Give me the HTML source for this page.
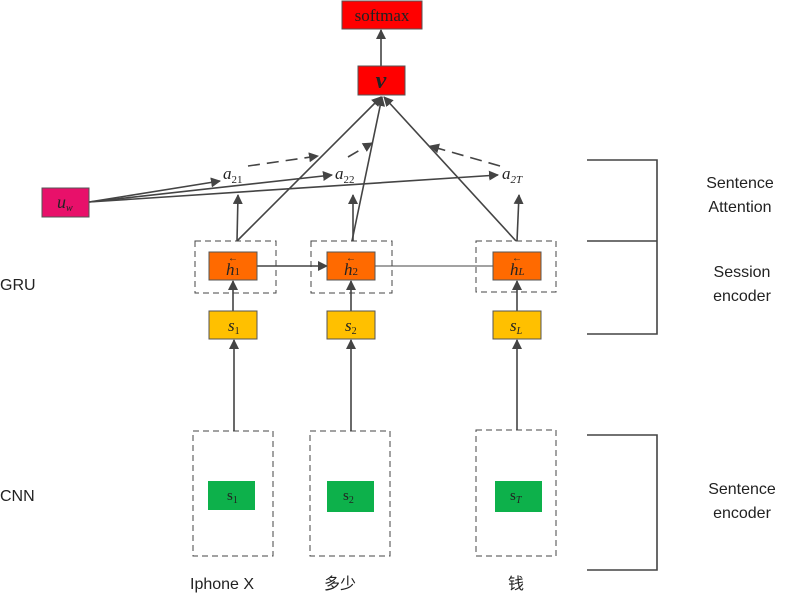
<!DOCTYPE html>
<html><head><meta charset="utf-8"><style>
body{margin:0;background:#fff;width:785px;height:595px;overflow:hidden}
svg{display:block}
.m{font-family:"Liberation Serif",serif;font-style:italic}
.s{font-family:"Liberation Sans","Noto Sans CJK SC",sans-serif;font-size:16px;fill:#222}
</style></head><body>
<svg width="785" height="595" viewBox="0 0 785 595" xmlns="http://www.w3.org/2000/svg">
<defs><marker id="a" markerWidth="10" markerHeight="10" refX="9" refY="5" orient="auto" markerUnits="userSpaceOnUse"><path d="M0,0L10,5L0,10z" fill="#444"/></marker></defs>
<g stroke="#444" stroke-width="1.6" fill="none">
<!-- dashed boxes -->
<g stroke-dasharray="6,4" stroke-width="1">
<rect x="195" y="241" width="81" height="52"/><rect x="311" y="241" width="81" height="52"/><rect x="476" y="241" width="80" height="51"/>
<rect x="193" y="431" width="80" height="125"/><rect x="310" y="431" width="80" height="125"/><rect x="476" y="430" width="80" height="126"/>
</g>
<!-- CNN to s -->
<line x1="234" y1="431" x2="234" y2="340" marker-end="url(#a)"/>
<line x1="351" y1="431" x2="351" y2="340" marker-end="url(#a)"/>
<line x1="517" y1="430" x2="517" y2="340" marker-end="url(#a)"/>
<!-- s to h -->
<line x1="233" y1="311" x2="233" y2="281" marker-end="url(#a)"/>
<line x1="351" y1="311" x2="351" y2="281" marker-end="url(#a)"/>
<line x1="517" y1="311" x2="517" y2="281" marker-end="url(#a)"/>
<!-- h chain -->
<line x1="257" y1="266" x2="327" y2="266" marker-end="url(#a)"/>
<line x1="375" y1="266" x2="493" y2="266" stroke-width="1"/>
<!-- h to a -->
<line x1="237" y1="241" x2="238" y2="195" marker-end="url(#a)"/>
<line x1="353" y1="241" x2="353" y2="195" marker-end="url(#a)"/>
<line x1="517" y1="241" x2="519" y2="195" marker-end="url(#a)"/>
<!-- h to v -->
<line x1="237" y1="241" x2="381" y2="97" marker-end="url(#a)"/>
<line x1="352" y1="241" x2="382" y2="97" marker-end="url(#a)"/>
<line x1="516" y1="241" x2="384" y2="97" marker-end="url(#a)"/>
<line x1="381" y1="66" x2="381" y2="30" marker-end="url(#a)"/>
<!-- u_w -->
<line x1="89" y1="202" x2="220" y2="181" marker-end="url(#a)"/>
<line x1="89" y1="202" x2="332" y2="175" marker-end="url(#a)"/>
<line x1="89" y1="202" x2="498" y2="175" marker-end="url(#a)"/>
<!-- dashed attention -->
<g stroke-dasharray="12,7">
<line x1="248" y1="166" x2="318" y2="156" marker-end="url(#a)"/>
<line x1="348" y1="157" x2="372" y2="143" marker-end="url(#a)"/>
<line x1="500" y1="166" x2="430" y2="146" marker-end="url(#a)"/>
</g>
<!-- brackets -->
<polyline points="587,160 657,160 657,334 587,334"/>
<line x1="587" y1="241" x2="657" y2="241"/>
<polyline points="587,435 657,435 657,570 587,570"/>
</g>
<g stroke="#555" stroke-width="1">
<rect x="342" y="1" width="80" height="28" fill="#f00"/>
<rect x="358" y="66" width="47" height="29" fill="#f00"/>
<rect x="42" y="188" width="47" height="29" fill="#e8106a"/>
<rect x="209" y="252" width="48" height="28" fill="#ff6a00"/>
<rect x="327" y="252" width="48" height="28" fill="#ff6a00"/>
<rect x="493" y="252" width="48" height="28" fill="#ff6a00"/>
<rect x="209" y="311" width="48" height="28" fill="#ffc000"/>
<rect x="327" y="311" width="48" height="28" fill="#ffc000"/>
<rect x="493" y="311" width="48" height="28" fill="#ffc000"/>
</g>
<g fill="#0db14b"><rect x="208" y="481" width="47" height="29"/><rect x="327" y="481" width="47" height="31"/><rect x="495" y="481" width="47" height="31"/></g>
<g font-family="Liberation Serif,serif" fill="#222">
<text x="382" y="21" font-size="17" text-anchor="middle">softmax</text>
<text x="381" y="88" font-size="24" class="m" text-anchor="middle" font-weight="bold">v</text>
<text x="57" y="208" class="m" font-size="18">u<tspan font-size="10" dy="3">w</tspan></text>
<text x="223" y="179" class="m" font-size="17">a<tspan font-size="11" dy="4" font-style="normal">21</tspan></text>
<text x="335" y="179" class="m" font-size="17">a<tspan font-size="11" dy="4" font-style="normal">22</tspan></text>
<text x="502" y="179" class="m" font-size="17">a<tspan font-size="11" dy="4">2T</tspan></text>
<text x="226" y="275" class="m" font-size="17">h<tspan font-size="11" font-style="normal">1</tspan></text>
<text x="344" y="275" class="m" font-size="17">h<tspan font-size="11" font-style="normal">2</tspan></text>
<text x="510" y="275" class="m" font-size="17">h<tspan font-size="11">L</tspan></text>
<text x="228" y="261" font-size="10">←</text><text x="346" y="261" font-size="10">←</text><text x="512" y="261" font-size="10">←</text>
<text x="228" y="331" class="m" font-size="17">s<tspan font-size="10" dy="3" font-style="normal">1</tspan></text>
<text x="345" y="331" class="m" font-size="17">s<tspan font-size="10" dy="3" font-style="normal">2</tspan></text>
<text x="510" y="331" class="m" font-size="17">s<tspan font-size="10" dy="3">L</tspan></text>
<text x="227" y="500" font-size="15">s<tspan font-size="10" dy="3">1</tspan></text>
<text x="343" y="500" font-size="15">s<tspan font-size="10" dy="3">2</tspan></text>
<text x="510" y="500" font-size="15">s<tspan font-size="10" dy="3" font-style="italic">T</tspan></text>
</g>
<text class="s" x="0" y="290">GRU</text>
<text class="s" x="0" y="501">CNN</text>
<text class="s" x="740" y="188" text-anchor="middle">Sentence</text>
<text class="s" x="740" y="212" text-anchor="middle">Attention</text>
<text class="s" x="742" y="277" text-anchor="middle">Session</text>
<text class="s" x="742" y="301" text-anchor="middle">encoder</text>
<text class="s" x="742" y="494" text-anchor="middle">Sentence</text>
<text class="s" x="742" y="518" text-anchor="middle">encoder</text>
<text class="s" x="190" y="589">Iphone X</text>
<text class="s" x="324" y="589">多少</text>
<text class="s" x="508" y="589">钱</text>
</svg>
</body></html>
